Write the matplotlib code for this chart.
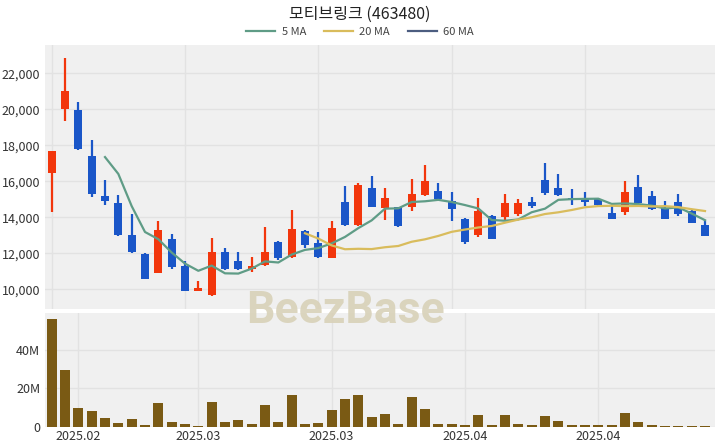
import matplotlib.pyplot as plt
import pandas as pd

plt.rcParams['font.family'] = ['Noto Sans CJK KR', 'DejaVu Sans']

# 일봉 데이터
opens = [16480, 20000, 19950, 17400, 15200, 14780, 13000, 11950, 10900, 12780,
         11300, 9920, 9700, 12050, 11550, 11150, 11350, 12650, 11800, 13250,
         12550, 11750, 14850, 13550, 15650, 14500, 14550, 14600, 15250, 15450,
         14900, 13900, 13000, 14100, 14000, 14200, 14850, 16050, 15650, 15100,
         15050, 15000, 14250, 14300, 15700, 15200, 14500, 14850, 14350, 13600]
highs = [17700, 22830, 20400, 18300, 16100, 15250, 14200, 12000, 13800, 13050,
         11550, 10450, 12850, 12300, 12100, 11800, 13450, 12700, 14400, 13300,
         13200, 13800, 15750, 15900, 16300, 15650, 14600, 16150, 16900, 15900,
         15400, 13950, 15050, 14150, 15300, 15000, 15150, 17000, 16400, 15600,
         15400, 15100, 14700, 16000, 16350, 15450, 14900, 15300, 14400, 13850]
lows = [14310, 19370, 17750, 15150, 14700, 12970, 12000, 10550, 10880, 11150,
        9880, 9900, 9650, 11100, 11100, 10950, 11300, 11650, 11750, 12300,
        11750, 11750, 13500, 13500, 14550, 13850, 13450, 14350, 15200, 14950,
        13800, 12500, 12900, 12800, 13800, 14050, 14500, 15250, 15200, 14700,
        14650, 14650, 13880, 14150, 14750, 14400, 13880, 14050, 13680, 12950]
closes = [17680, 21030, 17800, 15300, 14920, 13000, 12100, 10600, 13300, 11220,
          9920, 10100, 12050, 11150, 11150, 11300, 12100, 11750, 13350, 12450,
          11800, 13400, 13550, 15800, 14600, 15050, 13500, 15300, 16000, 15000,
          14450, 12650, 14350, 12800, 14800, 14800, 14650, 15350, 15250, 15000,
          14870, 14700, 13900, 15400, 14800, 14450, 13900, 14200, 13700, 12950]
volumes = [55.9, 29.6, 9.7, 8.5, 4.8, 1.9, 4.0, 1.0, 12.3, 2.4,
           1.3, 0.7, 12.8, 2.5, 3.8, 1.3, 11.4, 2.8, 16.8, 1.3,
           2.0, 9.0, 14.5, 16.6, 5.4, 6.7, 1.6, 15.4, 9.2, 1.7,
           1.6, 0.9, 6.1, 1.0, 6.4, 1.4, 1.2, 5.9, 3.3, 1.2,
           1.0, 0.8, 0.8, 7.1, 2.6, 0.8, 0.5, 0.7, 0.5, 0.6]  # 백만주
xtick_pos = [2, 11, 21, 31, 41]
xtick_labels = ['2025.02', '2025.03', '2025.03', '2025.04', '2025.04']

up_c = '#f2360c'
down_c = '#1a56c8'
bg = '#f0f0f0'
grid_c = '#e2e2e2'

df = pd.DataFrame({'o': opens, 'h': highs, 'l': lows, 'c': closes, 'v': volumes})
ma5 = df['c'].rolling(5).mean()
ma20 = df['c'].rolling(20).mean()
ma60 = df['c'].rolling(60).mean()

fig = plt.figure(figsize=(7.2, 4.48), dpi=100, facecolor='white')
ax = fig.add_axes([45/720, 1-309/448, 670/720, 264/448])
av = fig.add_axes([45/720, 1-427/448, 670/720, 114/448])

for a in (ax, av):
    a.set_facecolor(bg)
    for s in a.spines.values():
        s.set_visible(False)
    a.tick_params(length=0, labelsize=9, colors='#333333')
    a.set_xlim(-0.5, 49.75)

# 캔들
for i in range(len(df)):
    o, h, l, c = opens[i], highs[i], lows[i], closes[i]
    col = up_c if c >= o else down_c
    ax.vlines(i, l, h, color=col, linewidth=1.6, zorder=3)
    ax.bar(i, abs(c - o) if abs(c - o) > 0 else 20, bottom=min(o, c), width=0.62,
           color=col, zorder=3)

ax.plot(df.index, ma5, color='#5f9c86', linewidth=1.6, label='5 MA', zorder=4)
ax.plot(df.index, ma20, color='#d9bc5c', linewidth=1.6, label='20 MA', zorder=4)
ax.plot(df.index, ma60, color='#4c5d80', linewidth=1.6, label='60 MA', zorder=4)

ax.set_ylim(8906, 23572)
ax.set_yticks(range(10000, 22001, 2000))
ax.set_yticklabels([f'{v:,}' for v in range(10000, 22001, 2000)])
ax.set_xticks([0, 10, 20, 30, 40])
ax.set_xticklabels([])
ax.grid(True, color=grid_c, linewidth=1)
ax.set_axisbelow(True)

av.bar(df.index, volumes, width=0.75, color='#7a5a14', zorder=3)
av.set_ylim(0, 59.2)
av.set_yticks([0, 20, 40])
av.set_yticklabels(['0', '20M', '40M'])
av.set_xticks(xtick_pos)
av.set_xticklabels(xtick_labels)
av.tick_params(axis='x', pad=2)
av.grid(True, color=grid_c, linewidth=1)
av.set_axisbelow(True)

fig.text(0.5, 1-14/448, '모티브링크 (463480)', ha='center', va='center',
         fontsize=11.5, color='#222222')
fig.legend(loc='center', bbox_to_anchor=(0.5, 1-32/448), ncol=3, frameon=False,
           fontsize=8, handlelength=2.6, columnspacing=1.6, handletextpad=0.6,
           labelcolor='#444444')

fig.text(345/720, 1-311/448, 'BeezBase', ha='center', va='center', fontsize=32,
         fontweight='bold', color='#d8d1b8', alpha=0.9, zorder=10,
         family=['Roboto', 'DejaVu Sans'])

fig.savefig('out.png', dpi=100, facecolor='white')
